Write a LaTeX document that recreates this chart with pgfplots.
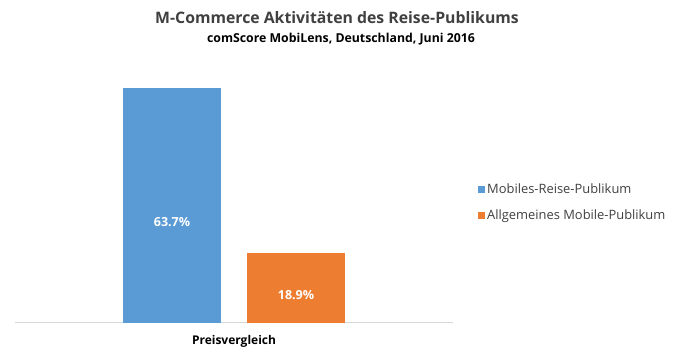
\documentclass[border=0pt]{standalone}
\usepackage{pgfplots}
\pgfplotsset{compat=1.18}
\usepackage{fontspec}
\setmainfont{Open Sans}
\definecolor{cblue}{HTML}{5B9BD5}
\definecolor{corange}{HTML}{ED7D31}
\definecolor{ctext}{HTML}{404040}
\definecolor{cgrid}{HTML}{D9D9D9}
\begin{document}
\begin{tikzpicture}
\useasboundingbox (0,0) rectangle (677pt,358pt);
\node[font=\fontsize{15.8}{19}\selectfont\bfseries, text=ctext] at (337pt,340pt) {M-Commerce Aktivitäten des Reise-Publikums};
\node[font=\fontsize{12.3}{15}\selectfont\bfseries, text=black] at (341pt,319pt) {comScore MobiLens, Deutschland, Juni 2016};
\begin{axis}[
  at={(15pt,35pt)}, anchor=south west,
  width=438pt, height=258pt, scale only axis,
  xmin=-1, xmax=1, ymin=0, ymax=70,
  axis y line=none, axis x line*=bottom,
  x axis line style={cgrid, line width=1pt},
  xtick={0}, xticklabels={Preisvergleich},
  major tick length=0pt,
  xticklabel style={font=\fontsize{12}{15}\selectfont\bfseries, text=black, yshift=-9pt},
  /pgf/number format/assume math mode=true,
  legend style={at={(1.057,0.467)}, anchor=west, draw=none, fill=none,
    font=\fontsize{12.9}{16}\selectfont, text=ctext, row sep=11pt,
    legend cell align=left, inner sep=0pt},
  legend image code/.code={\fill[#1] (0pt,-3.5pt) rectangle (7pt,3.5pt);},
  clip=false,
]
\addplot[ybar, bar width=98pt, bar shift=-62pt, fill=cblue, draw=none,
  nodes near coords={\pgfmathprintnumber[fixed,precision=1,fixed zerofill]{\pgfplotspointmeta}\%},
  every node near coord/.append style={anchor=center, xshift=-62pt, yshift=-134pt, text=white, font=\fontsize{12.5}{15}\selectfont\bfseries}]
  coordinates {(0,63.7)};
\addlegendentry{Mobiles-Reise-Publikum}
\addplot[ybar, bar width=98pt, bar shift=62pt, fill=corange, draw=none,
  nodes near coords={\pgfmathprintnumber[fixed,precision=1,fixed zerofill]{\pgfplotspointmeta}\%},
  every node near coord/.append style={anchor=center, xshift=62pt, yshift=-42pt, text=white, font=\fontsize{12.5}{15}\selectfont\bfseries}]
  coordinates {(0,18.9)};
\addlegendentry{Allgemeines Mobile-Publikum}
\end{axis}
\end{tikzpicture}
\end{document}
